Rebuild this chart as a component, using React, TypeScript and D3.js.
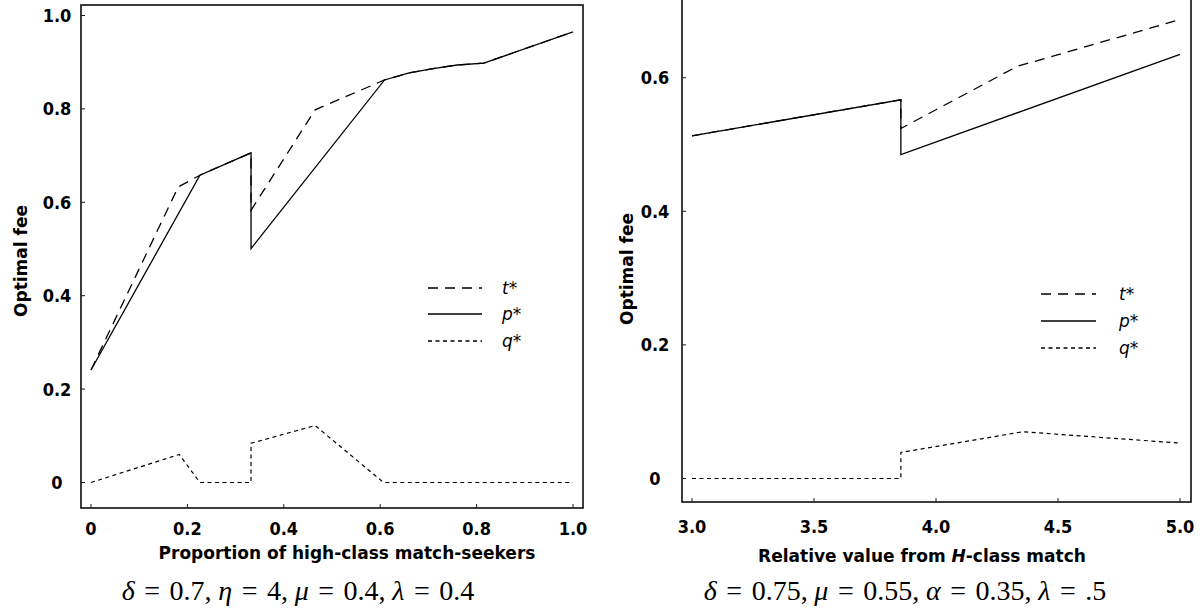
import React from 'react';
import * as d3 from 'd3';

// ---- data ----
type Pt = [number, number];

// left panel: x = proportion of high-class match-seekers
const leftP: Pt[] = [[0, 0.241], [0.226, 0.658], [0.332, 0.706], [0.332, 0.501], [0.609, 0.862], [0.66, 0.877], [0.713, 0.887], [0.76, 0.894], [0.815, 0.898], [1.0, 0.965]];
const leftT: Pt[] = [[0, 0.241], [0.181, 0.633], [0.226, 0.658], [0.332, 0.706], [0.332, 0.583], [0.465, 0.798], [0.609, 0.862], [0.66, 0.877], [0.713, 0.887], [0.76, 0.894], [0.815, 0.898], [1.0, 0.965]];
const leftQ: Pt[] = [[0, 0], [0.183, 0.06], [0.226, 0], [0.332, 0], [0.332, 0.084], [0.465, 0.122], [0.607, 0], [1.0, 0]];
const leftXTicks = [0, 0.2, 0.4, 0.6, 0.8, 1.0];
const leftXLabels = ['0', '0.2', '0.4', '0.6', '0.8', '1.0'];
const leftYTicks = [0, 0.2, 0.4, 0.6, 0.8, 1.0];
const leftYLabels = ['0', '0.2', '0.4', '0.6', '0.8', '1.0'];
const leftCaption: [string, string][] = [['δ', '0.7'], ['η', '4'], ['μ', '0.4'], ['λ', '0.4']];

// right panel: x = relative value from H-class match
const rightP: Pt[] = [[3, 0.513], [3.856, 0.567], [3.856, 0.485], [5, 0.635]];
const rightT: Pt[] = [[3, 0.513], [3.856, 0.567], [3.856, 0.524], [4.333, 0.617], [5, 0.687]];
const rightQ: Pt[] = [[3, 0], [3.856, 0], [3.856, 0.039], [4.356, 0.07], [5, 0.053]];
const rightXTicks = [3.0, 3.5, 4.0, 4.5, 5.0];
const rightXLabels = ['3.0', '3.5', '4.0', '4.5', '5.0'];
const rightYTicks = [0, 0.2, 0.4, 0.6];
const rightYLabels = ['0', '0.2', '0.4', '0.6'];
const rightCaption: [string, string][] = [['δ', '0.75'], ['μ', '0.55'], ['α', '0.35'], ['λ', '.5']];

const legendLabels = ['t', 'p', 'q'];

const tickFont = "'DejaVu Sans Condensed', 'DejaVu Sans', sans-serif";
const titleFont = "'DejaVu Sans', sans-serif";
const mathFont = "'Liberation Serif', 'DejaVu Serif', serif";

const dashT = '10,7';
const dashQ = '4,3.5';

interface PanelProps {
  frame: { x0: number; x1: number; y0: number; y1: number };
  xDomain: [number, number];
  xRange: [number, number];
  yDomain: [number, number];
  yRange: [number, number];
  t: Pt[];
  p: Pt[];
  q: Pt[];
  xTicks: number[];
  xLabels: string[];
  yTicks: number[];
  yLabels: string[];
  xLabelY: number;
  yLabelX: number;
  yTitleX: number;
  yTitleY: number;
  xTitle: React.ReactNode;
  xTitleX: number;
  xTitleY: number;
  legend: { x0: number; x1: number; tx: number; y: number[] };
}

const Panel = (props: PanelProps) => {
  const { frame } = props;
  const x = d3.scaleLinear().domain(props.xDomain).range(props.xRange);
  const y = d3.scaleLinear().domain(props.yDomain).range(props.yRange);
  const line = d3.line<Pt>().x(d => x(d[0])).y(d => y(d[1]));
  const dashes = [dashT, undefined, dashQ];

  return (
    <g>
      <path d={line(props.t) ?? ''} fill="none" stroke="#000" strokeWidth={1.3} strokeDasharray={dashT} />
      <path d={line(props.p) ?? ''} fill="none" stroke="#000" strokeWidth={1.3} />
      <path d={line(props.q) ?? ''} fill="none" stroke="#000" strokeWidth={1.2} strokeDasharray={dashQ} />

      <rect x={frame.x0} y={frame.y0} width={frame.x1 - frame.x0} height={frame.y1 - frame.y0}
        fill="none" stroke="#1a1a1a" strokeWidth={1.7} />

      {props.xTicks.map((v, i) => (
        <g key={'xt' + i}>
          <line x1={x(v)} x2={x(v)} y1={frame.y1} y2={frame.y1 - 4} stroke="#1a1a1a" strokeWidth={1} />
          <text x={x(v)} y={props.xLabelY} textAnchor="middle" fontFamily={tickFont}
            fontWeight="bold" fontSize={18} style={{ fontStretch: 'condensed' }}>{props.xLabels[i]}</text>
        </g>
      ))}
      {props.yTicks.map((v, i) => (
        <g key={'yt' + i}>
          <line x1={frame.x0} x2={frame.x0 + 4} y1={y(v)} y2={y(v)} stroke="#1a1a1a" strokeWidth={1} />
          <text x={props.yLabelX} y={y(v)} dy="0.36em" textAnchor="middle" fontFamily={tickFont}
            fontWeight="bold" fontSize={18} style={{ fontStretch: 'condensed' }}>{props.yLabels[i]}</text>
        </g>
      ))}

      <text transform={`translate(${props.yTitleX},${props.yTitleY}) rotate(-90)`} textAnchor="middle"
        fontFamily={titleFont} fontWeight="bold" fontSize={17}>Optimal fee</text>
      <text x={props.xTitleX} y={props.xTitleY} textAnchor="middle" fontFamily={titleFont}
        fontWeight="bold" fontSize={17}>{props.xTitle}</text>

      {legendLabels.map((name, i) => (
        <g key={'lg' + i}>
          <line x1={props.legend.x0} x2={props.legend.x1} y1={props.legend.y[i]} y2={props.legend.y[i]}
            stroke="#000" strokeWidth={1.3} strokeDasharray={dashes[i]} />
          <text x={props.legend.tx} y={props.legend.y[i]} dy="0.35em" fontFamily={titleFont}
            fontStyle="italic" fontSize={17}>{name}*</text>
        </g>
      ))}
    </g>
  );
};

// TeX-like math caption: italic symbol, thick spaces round "=", thin space after commas
const Caption = ({ cx, y, parts }: { cx: number; y: number; parts: [string, string][] }) => {
  const fs = 28;
  const gap = fs * 0.34;
  const thin = fs * 0.24;
  return (
    <text x={cx} y={y} textAnchor="middle" fontFamily={mathFont} fontSize={fs}>
      {parts.map(([sym, val], i) => (
        <tspan key={i}>
          <tspan fontStyle="italic" dx={i === 0 ? 0 : thin}>{sym}</tspan>
          <tspan dx={gap}>=</tspan>
          <tspan dx={gap}>{val}{i < parts.length - 1 ? ',' : ''}</tspan>
        </tspan>
      ))}
    </text>
  );
};

const App = () => (
  <svg width={1203} height={615} style={{ position: 'absolute', left: 0, top: 0, background: '#fff' }}>
    <rect width={1203} height={615} fill="#fff" />
    <Panel
      frame={{ x0: 81, x1: 583, y0: 5, y1: 508 }}
      xDomain={[0, 1]} xRange={[91, 573]}
      yDomain={[0, 1]} yRange={[482.5, 15.5]}
      t={leftT} p={leftP} q={leftQ}
      xTicks={leftXTicks} xLabels={leftXLabels}
      yTicks={leftYTicks} yLabels={leftYLabels}
      xLabelY={535} yLabelX={57}
      yTitleX={27} yTitleY={261}
      xTitle="Proportion of high-class match-seekers" xTitleX={347} xTitleY={559}
      legend={{ x0: 428, x1: 482, tx: 502, y: [288, 314, 341] }}
    />
    <Panel
      frame={{ x0: 682, x1: 1191, y0: -20, y1: 502 }}
      xDomain={[3, 5]} xRange={[692, 1180]}
      yDomain={[0, 0.6]} yRange={[478.5, 77.7]}
      t={rightT} p={rightP} q={rightQ}
      xTicks={rightXTicks} xLabels={rightXLabels}
      yTicks={rightYTicks} yLabels={rightYLabels}
      xLabelY={533} yLabelX={655}
      yTitleX={633} yTitleY={269}
      xTitle={<>Relative value from <tspan fontStyle="italic">H</tspan>-class match</>} xTitleX={922} xTitleY={562}
      legend={{ x0: 1041, x1: 1096, tx: 1119, y: [294, 321, 348] }}
    />
    <Caption cx={298} y={600} parts={leftCaption} />
    <Caption cx={905} y={600} parts={rightCaption} />
  </svg>
);

export default App;
